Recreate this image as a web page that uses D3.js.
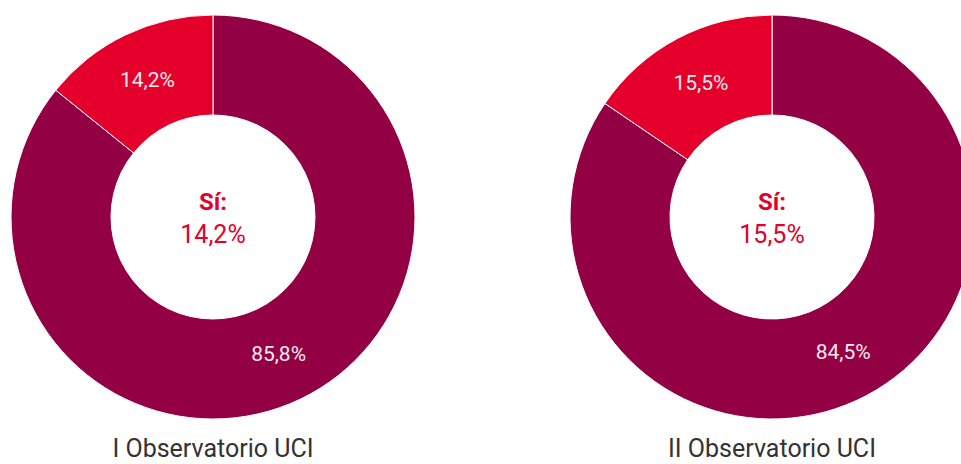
<!DOCTYPE html>
<html>
<head>
<meta charset="utf-8">
<script src="https://cdn.jsdelivr.net/npm/d3@7"></script>
<style>
  body { margin: 0; background: #fff; }
  svg { display: block; font-family: Roboto, 'Noto Sans', sans-serif; }
</style>
</head>
<body>
<div id="graf"></div>
<script>
// Datos
ediciones = ['I Observatorio UCI', 'II Observatorio UCI']
categorias = ['No', 'Sí']
valoresNo = [85.8, 84.5]
valoresSi = [14.2, 15.5]

// Configuracion
ancho_total = 961
alto_total = 464
radio = 202
radioInterno = 102
centroY = 217

svg = d3.select('#graf').append('svg')
        .attr('width', ancho_total)
        .attr('height', alto_total)

x = d3.scalePoint()
        .domain(ediciones)
        .range([213, 772])

color = d3.scaleOrdinal()
        .domain(categorias)
        .range(['#930044', '#e4002b'])

pie = d3.pie()
        .sort(null)
        .value(d => d.valor)

arc = d3.arc()
        .innerRadius(radioInterno)
        .outerRadius(radio)

fmt = v => d3.format('.1f')(v).replace('.', ',') + '%'

ediciones.forEach((ed, i) => {
    datos = [
        { cat: 'No', valor: valoresNo[i] },
        { cat: 'Sí', valor: valoresSi[i] }
    ]

    g = svg.append('g')
            .attr('transform', `translate(${ x(ed) }, ${ centroY })`)

    g.selectAll('path')
        .data(pie(datos))
        .enter()
        .append('path')
        .attr('d', arc)
        .attr('fill', d => color(d.data.cat))
        .attr('stroke', '#fff')
        .attr('stroke-width', 1)

    g.selectAll('text.etiqueta')
        .data(pie(datos))
        .enter()
        .append('text')
        .attr('class', 'etiqueta')
        .attr('transform', d => `translate(${ arc.centroid(d) })`)
        .attr('text-anchor', 'middle')
        .attr('dy', '0.35em')
        .attr('fill', '#f6eaf0')
        .style('font-size', '21px')
        .text(d => fmt(d.data.valor))

    // texto central
    g.append('text')
        .attr('text-anchor', 'middle')
        .attr('y', -7)
        .attr('fill', '#e4002b')
        .style('font-size', '24px')
        .style('font-weight', 'bold')
        .text('Sí:')

    g.append('text')
        .attr('text-anchor', 'middle')
        .attr('y', 26)
        .attr('fill', '#e4002b')
        .style('font-size', '25px')
        .text(fmt(valoresSi[i]))

    // titulo
    svg.append('text')
        .attr('x', x(ed))
        .attr('y', 457)
        .attr('text-anchor', 'middle')
        .attr('fill', '#333')
        .style('font-size', '25px')
        .text(ed)
})
</script>
</body>
</html>
